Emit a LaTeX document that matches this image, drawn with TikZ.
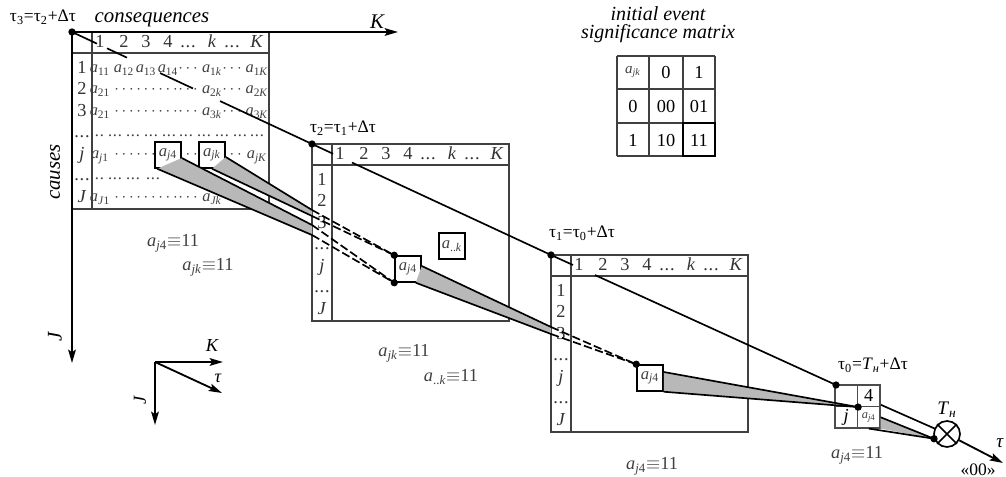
\documentclass[tikz,border=0pt]{standalone}
\usepackage{fontspec}
\setmainfont{Liberation Serif}
\usetikzlibrary{arrows.meta,calc}
\newcommand{\ax}[1]{\textit{a}\textsubscript{#1}}
\newcommand{\tdots}{.\kern0.5pt.\kern0.5pt.}
\newcommand{\mframe}[3]{%
  \draw[mborder] (#2,#3) rectangle ++(197,177);
  \draw[mborder] (#2,#3+21) -- ++(197,0);
  \draw[mborder] (#2+20,#3) -- ++(0,177);
  \foreach \dx/\t [count=\i] in {28/1,52/2,74/3,96/4,116/{\tdots},140/{\textit{k}},160/{\tdots},185/{\textit{K}}}
    \node[mtext] (#1h\i) at (#2+\dx,#3+16) {\t};
  \foreach \dy/\t [count=\i] in {36/1,57/2,79/3,100/{\tdots},122/{\textit{j}},143/{\tdots},165/{\textit{J}}}
    \node[mtext] (#1r\i) at (#2+10,#3+\dy+5.5) {\t};
}
\begin{document}
\begin{tikzpicture}[x=0.6pt,y=-0.6pt,
  mborder/.style={draw=black!75, line width=0.8pt},
  mtext/.style={font=\fontsize{11}{12}\selectfont, text=black!80, inner sep=0.5pt, anchor=base},
  ctext/.style={font=\fontsize{9.8}{11}\selectfont, text=black!75, inner sep=0.3pt, anchor=base},
  mainline/.style={line width=1pt},
  bandedge/.style={line width=1pt},
  band/.style={fill=black!28},
  dashedge/.style={line width=1pt, dash pattern=on 5pt off 2pt},
  dot/.style={circle, fill=black, inner sep=0pt, minimum size=4.4pt},
  cellbox/.style={draw=black, line width=0.9pt, fill=white, minimum size=15.6pt, inner sep=0pt, font=\fontsize{10}{10}\selectfont, text=black!75},
  fcell/.style={draw=black!70, line width=0.7pt, fill=white, minimum width=13.5pt, minimum height=12.9pt, inner sep=0pt, font=\fontsize{11}{11}\selectfont},
  otnode/.style={circle, draw=black, line width=1pt, fill=white, minimum size=15.6pt, inner sep=0pt},
  arr/.style={-{Stealth[length=8pt,width=4.6pt,inset=1.5pt]}, line width=1.1pt},
  lbl/.style={font=\fontsize{12.5}{14}\selectfont\itshape, inner sep=0pt},
  tlbl/.style={font=\fontsize{10.5}{12}\selectfont, inner sep=0pt},
  eqlbl/.style={font=\fontsize{11}{12}\selectfont, text=black!75, inner sep=0pt},
  glbl/.style={font=\fontsize{11}{12}\selectfont, inner sep=0pt}
]
\useasboundingbox (0,0) rectangle (1006,477);

% key coordinates
\coordinate (t3) at (72,32);
\coordinate (t2) at (312,144);
\coordinate (t1) at (551,255);
\coordinate (t0) at (836,385);
\coordinate (otc) at (947,434);
\coordinate (tauend) at (1003,463);
\coordinate (Kend) at (398,32);
\coordinate (Jend) at (72,363);

% matrices
\mframe{m1}{72}{32}
\mframe{m2}{312}{144}
\mframe{m3}{551}{255}

% matrix 1 contents
\foreach \dx/\t [count=\i] in {28/\ax{11},52/\ax{12},74/\ax{13},96/\ax{14},116/$\cdots$,140/\ax{1\textit{k}},160/$\cdots$,185/\ax{1\textit{K}}}
  \node[ctext] (m1a\i) at (72+\dx,73) {\t};
\foreach \dx/\t [count=\i] in {28/\ax{21},52/$\cdots$,74/$\cdots$,96/$\cdots$,116/$\cdots$,140/\ax{2\textit{k}},160/$\cdots$,185/\ax{2\textit{K}}}
  \node[ctext] (m1b\i) at (72+\dx,94) {\t};
\foreach \dx/\t [count=\i] in {28/\ax{21},52/$\cdots$,74/$\cdots$,96/$\cdots$,116/$\cdots$,140/\ax{3\textit{k}},160/$\cdots$,185/\ax{3\textit{K}}}
  \node[ctext] (m1c\i) at (72+\dx,116) {\t};
\foreach \dx [count=\i] in {25,43,61,79,97,114,132,150,168,185}
  \node[ctext] (m1d\i) at (72+\dx,137) {\tdots};
\foreach \dx/\t [count=\i] in {28/\ax{\textit{j}1},52/$\cdots$,74/$\cdots$,116/$\cdots$,160/$\cdots$,185/\ax{\textit{jK}}}
  \node[ctext] (m1e\i) at (72+\dx,159) {\t};
\foreach \dx [count=\i] in {25,43,61,81}
  \node[ctext] (m1f\i) at (72+\dx,180) {\tdots};
\foreach \dx/\t [count=\i] in {28/\ax{\textit{J}1},52/$\cdots$,74/$\cdots$,96/$\cdots$,116/$\cdots$,140/\ax{\textit{Jk}}}
  \node[ctext] (m1g\i) at (72+\dx,202) {\t};

% axes of matrix 1
\draw[arr] (t3) -- (Kend);
\draw[arr] (t3) -- (Jend);

% time line (with gaps behind text)
\draw[mainline] (t3) -- ($(t3)!0.104!(t2)$);
\draw[mainline] ($(t3)!0.146!(t2)$) -- ($(t3)!0.229!(t2)$);
\draw[mainline] ($(t3)!0.367!(t2)$) -- ($(t3)!0.504!(t2)$);
\draw[mainline] ($(t3)!0.617!(t2)$) -- (t2);
\draw[mainline] (t2) -- ($(t2)!0.088!(t1)$);
\draw[mainline] ($(t2)!0.167!(t1)$) -- (t1);
\draw[mainline] (t1) -- ($(t1)!0.077!(t0)$);
\draw[mainline] ($(t1)!0.154!(t0)$) -- (t0);
\draw[mainline] (t0) -- (otc);

% highlighted cells
\node[cellbox] (b1a) at (168,155) {\ax{\textit{j}4}};
\node[cellbox] (b1b) at (212,155) {\ax{\textit{jk}}};
\node[cellbox] (b2a) at (408,269) {\ax{\textit{j}4}};
\node[cellbox] (b2b) at (452,246) {\ax{..\textit{k}}};
\node[cellbox] (b3a) at (650,378) {\ax{\textit{j}4}};

% band ends on matrix edges
\coordinate (A1) at (312,210);
\coordinate (A2) at (312,216);
\coordinate (B1) at (312,225);
\coordinate (B2) at (312,235);
\coordinate (C1) at (551,327);
\coordinate (C2) at (551,334);

% band A (a_jk)
\fill[band] ($(b1b.east)+(0,2)$) -- (A1) -- (A2) -- (b1b.south) -- cycle;
\draw[bandedge] ($(b1b.east)+(0,2)$) -- (A1);
\draw[bandedge] (b1b.south) -- (A2);
\draw[dashedge] (A1) -- (b2a.north west);
\draw[dashedge] (A2) -- (b2a.north west);
% band B (a_j4)
\fill[band] ($(b1a.east)+(0,3)$) -- (B1) -- (B2) -- ($(b1a.south west)+(3,0)$) -- cycle;
\draw[bandedge] ($(b1a.east)+(0,3)$) -- (B1);
\draw[bandedge] ($(b1a.south west)+(3,0)$) -- (B2);
\draw[dashedge] (B1) -- (b2a.south west);
\draw[dashedge] (B2) -- (b2a.south west);
% band C
\fill[band] ($(b2a.east)+(0,-3)$) -- (C1) -- (C2) -- ($(b2a.south east)+(-6,0)$) -- cycle;
\draw[bandedge] ($(b2a.east)+(0,-3)$) -- (C1);
\draw[bandedge] ($(b2a.south east)+(-6,0)$) -- (C2);
\draw[dashedge] (C1) -- (b3a.north west);
\draw[dashedge] (C2) -- (b3a.north west);

% final small matrix
\node[fcell] (g11) at (846.25,395.75) {};
\node[fcell] (g12) at (868.75,395.75) {4};
\node[fcell] (g21) at (846.25,417.25) {\textit{j}};
\node[fcell, font=\fontsize{7.5}{8}\selectfont, text=black!75] (g22) at (868.75,417.25) {\ax{\textit{j}4}};
\coordinate (gc) at (g11.south east);

% band D
\fill[band] ($(b3a.east)+(0,-6)$) -- (gc) -- (b3a.south east) -- cycle;
\draw[bandedge] ($(b3a.east)+(0,-6)$) -- (gc);
\draw[bandedge] (b3a.south east) -- (gc);

% otimes
\node[otnode] (ot) at (otc) {};
\draw[line width=1pt] (ot.45) -- (ot.225) (ot.135) -- (ot.315);
\draw[arr] (ot) -- (tauend);

% band E
\fill[band] (g22.east) -- (ot.200) -- (g22.south east) -- cycle;
\draw[bandedge] (g22.east) -- (ot.200);
\draw[bandedge] (g22.south) -- (ot.200);

% dots
\foreach \p in {t3,t2,t1,t0,gc,ot.200,b2a.north west,b2a.south west,b3a.north west}
  \node[dot] at (\p) {};

% labels
\node[tlbl] (l3) at (43,17) {τ\textsubscript{3}=τ\textsubscript{2}+Δτ};
\node[tlbl] (l2) at (343,128) {τ\textsubscript{2}=τ\textsubscript{1}+Δτ};
\node[tlbl] (l1) at (582,233) {τ\textsubscript{1}=τ\textsubscript{0}+Δτ};
\node[tlbl] (l0) at (873,365) {τ\textsubscript{0}=\textit{T}\textsubscript{\textit{н}}+Δτ};
\node[tlbl, font=\fontsize{11.5}{12}\selectfont] (lth) at (947,410) {\textit{T}\textsubscript{\textit{н}}};
\node[tlbl, font=\fontsize{11.5}{12}\selectfont] (ltau) at (1000,443) {\textit{τ}};
\node[tlbl] (l00) at (978,470) {«00»};
\node[lbl] (cons) at (152,20) {consequences};
\node[lbl, rotate=90] (caus) at (55,172) {causes};
\node[lbl] (lK) at (377,22) {K};
\node[lbl, rotate=90] (lJ) at (55,337) {J};

\node[eqlbl] (e1) at (173,243) {\ax{\textit{j}4}$\equiv$11};
\node[eqlbl] (e2) at (208,267) {\ax{\textit{jk}}$\equiv$11};
\node[eqlbl] (e3) at (404,353) {\ax{\textit{jk}}$\equiv$11};
\node[eqlbl] (e4) at (451,377) {\ax{..\textit{k}}$\equiv$11};
\node[eqlbl] (e5) at (652,466) {\ax{\textit{j}4}$\equiv$11};
\node[eqlbl] (e6) at (857,455) {\ax{\textit{j}4}$\equiv$11};

% small coordinate system
\coordinate (o) at (155,362);
\coordinate (ok) at (223,362);
\coordinate (otau) at (222,393);
\coordinate (oj) at (155,425);
\draw[arr] (o) -- (ok);
\draw[arr] (o) -- (otau);
\draw[arr] (o) -- (oj);
\node[tlbl, font=\fontsize{11}{12}\selectfont\itshape] (sk) at (212,345) {K};
\node[tlbl, font=\fontsize{11}{12}\selectfont\itshape] (st) at (218,378) {τ};
\node[tlbl, font=\fontsize{11}{12}\selectfont\itshape, rotate=90] (sj) at (140,400) {J};

% initial event significance matrix
\node[lbl, font=\fontsize{12}{14}\selectfont\itshape, align=center] (ini) at (658,25) {initial event\\[-3pt]significance matrix};
\foreach \x in {617,649,683,715} \draw[mborder] (\x,56) -- (\x,156);
\foreach \y in {56,89,123,156} \draw[mborder] (617,\y) -- (715,\y);
\draw[line width=1.3pt] (683,123) rectangle (715,156);
\node[glbl, font=\fontsize{9}{10}\selectfont, text=black!75] (s11) at (633,72) {\ax{\textit{jk}}};
\node[glbl] (s12) at (666,72) {0};
\node[glbl] (s13) at (699,72) {1};
\node[glbl] (s21) at (633,106) {0};
\node[glbl] (s22) at (666,106) {00};
\node[glbl] (s23) at (699,106) {01};
\node[glbl] (s31) at (633,140) {1};
\node[glbl] (s32) at (666,140) {10};
\node[glbl] (s33) at (699,140) {11};
\end{tikzpicture}
\end{document}
